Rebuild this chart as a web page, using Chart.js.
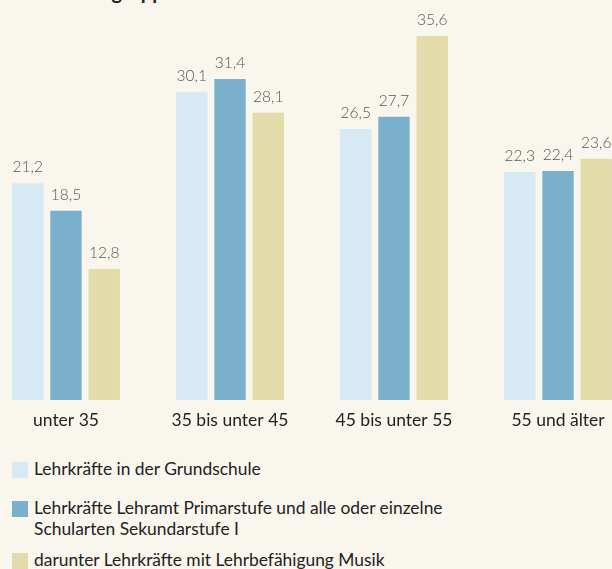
<!DOCTYPE html>
<html lang="de">
<head>
<meta charset="utf-8">
<script src="https://cdn.jsdelivr.net/npm/chart.js@4/dist/chart.umd.min.js"></script>
<style>
  html, body { margin: 0; padding: 0; }
  body {
    width: 612px; height: 569px; overflow: hidden; position: relative;
    background: #f9f6ee; font-family: Lato, "Noto Sans", sans-serif; color: #222;
  }
  .title {
    position: absolute; left: 12px; top: -21px;
    font-size: 20px; line-height: 24px; font-weight: 700; white-space: nowrap;
  }
  .chart-box { position: absolute; left: -16px; top: 0; width: 656px; height: 440px; }
  .legend .item {
    position: absolute; left: 12px; padding-left: 22px;
    font-size: 17.4px; line-height: 21px; white-space: nowrap;
  }
  .legend .sw { position: absolute; left: 0; top: 4px; width: 16px; height: 16px; }
</style>
</head>
<body>
<div class="title">nach Altersgruppen</div>
<div class="chart-box"><canvas id="chart"></canvas></div>
<div class="legend" id="legend"></div>

<script>
const categories = ["unter 35", "35 bis unter 45", "45 bis unter 55", "55 und älter"];
const seriesNames = [
  "Lehrkräfte in der Grundschule",
  "Lehrkräfte Lehramt Primarstufe und alle oder einzelne<br>Schularten Sekundarstufe I",
  "darunter Lehrkräfte mit Lehrbefähigung Musik"
];
const grundschule = [21.2, 30.1, 26.5, 22.3];
const primarSek = [18.5, 31.4, 27.7, 22.4];
const musik = [12.8, 28.1, 35.6, 23.6];
const colors = ["#d7e9f5", "#7bb0cd", "#e3dcaa"];
const legendTops = [458, 497, 549];

// value labels over the bars, German decimal comma
const valueLabels = {
  id: "valueLabels",
  afterDatasetsDraw(chart) {
    const ctx = chart.ctx;
    ctx.save();
    ctx.font = "300 15.5px Lato";
    ctx.fillStyle = "#555";
    ctx.textAlign = "center";
    ctx.textBaseline = "bottom";
    chart.data.datasets.forEach((ds, i) => {
      chart.getDatasetMeta(i).data.forEach((bar, j) => {
        ctx.fillText(ds.data[j].toFixed(1).replace(".", ","), bar.x, bar.y - 8);
      });
    });
    ctx.restore();
  }
};

const allSeries = [grundschule, primarSek, musik];

new Chart(document.getElementById("chart"), {
  type: "bar",
  data: {
    labels: categories,
    datasets: allSeries.map((d, i) => ({
      label: seriesNames[i],
      data: d,
      backgroundColor: colors[i],
      categoryPercentage: 0.7,
      barPercentage: 0.82
    }))
  },
  options: {
    responsive: true,
    maintainAspectRatio: false,
    animation: false,
    layout: { padding: 0 },
    plugins: { legend: { display: false }, tooltip: { enabled: false } },
    scales: {
      x: {
        grid: { display: false, drawTicks: false },
        border: { display: false },
        ticks: { color: "#222", font: { family: "Lato", size: 17.5 }, padding: 10 },
        afterFit(scale) { scale.height = 40; }
      },
      y: { display: false, min: 0, max: 39.12 }
    }
  },
  plugins: [valueLabels]
});

const legend = document.getElementById("legend");
seriesNames.forEach((name, i) => {
  const item = document.createElement("div");
  item.className = "item";
  item.style.top = legendTops[i] + "px";
  item.innerHTML = '<span class="sw" style="background:' + colors[i] + '"></span>' + name;
  legend.appendChild(item);
});
</script>
</body>
</html>
